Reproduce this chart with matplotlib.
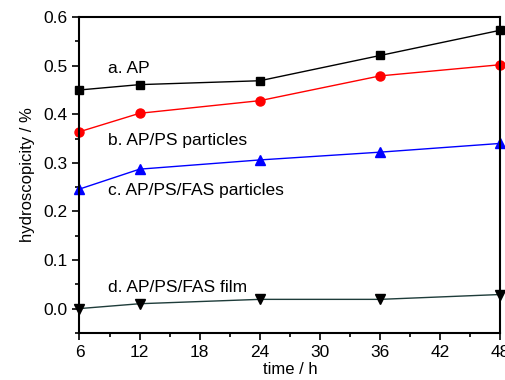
import matplotlib
matplotlib.use('Agg')
import matplotlib.pyplot as plt
from matplotlib.ticker import MultipleLocator

plt.rcParams['font.family'] = ['Liberation Sans', 'DejaVu Sans']

# data
hours = [6, 12, 24, 36, 48]
ap = [0.450, 0.461, 0.469, 0.521, 0.573]
ap_ps = [0.364, 0.402, 0.428, 0.479, 0.502]
ap_ps_fas = [0.246, 0.287, 0.306, 0.322, 0.340]
fas_film = [0.000, 0.010, 0.019, 0.019, 0.029]
series_labels = ['a. AP', 'b. AP/PS particles', 'c. AP/PS/FAS particles', 'd. AP/PS/FAS film']
label_pos = [(8.8, 0.495), (8.8, 0.345), (8.8, 0.244), (8.8, 0.043)]

fig = plt.figure(figsize=(5.06, 3.8), dpi=100)
ax = fig.add_axes([0.157, 0.124, 0.832, 0.831])

ax.plot(hours, ap, '-s', color='black', lw=1, ms=6, clip_on=False)
ax.plot(hours, ap_ps, '-o', color='red', lw=1, ms=6.5, clip_on=False)
ax.plot(hours, ap_ps_fas, '-^', color='blue', lw=1, ms=7, clip_on=False)
ax.plot(hours, fas_film, '-v', color='#1e3c3a', mfc='black', mec='black', lw=1, ms=7, clip_on=False)

for txt, (x, y) in zip(series_labels, label_pos):
    ax.text(x, y, txt, fontsize=12.5, ha='left', va='center')

ax.set_xlim(6, 48)
ax.set_ylim(-0.05, 0.6)
ax.xaxis.set_major_locator(MultipleLocator(6))
ax.xaxis.set_minor_locator(MultipleLocator(3))
ax.yaxis.set_major_locator(MultipleLocator(0.1))
ax.yaxis.set_minor_locator(MultipleLocator(0.05))
ax.yaxis.set_major_formatter(plt.FormatStrFormatter('%.1f'))
ax.tick_params(which='both', direction='out', top=False, right=False, labelsize=12.5, width=1.2)
ax.tick_params(which='major', length=5)
ax.tick_params(which='minor', length=3)
for s in ax.spines.values():
    s.set_linewidth(1.5)

ax.set_xlabel('time / h', fontsize=12, labelpad=2)
ax.set_ylabel('hydroscopicity / %', fontsize=12, labelpad=6)

fig.savefig('out.png', dpi=100)
